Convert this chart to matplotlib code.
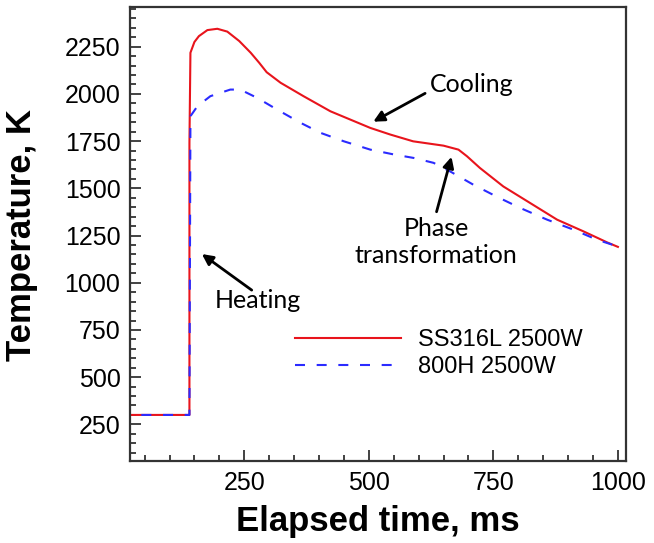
import matplotlib
matplotlib.use("Agg")
import matplotlib.pyplot as plt
from matplotlib.ticker import MultipleLocator

# data (time in ms, temperature in K)
t_ss = [0, 140, 140, 142, 150, 159, 176, 196, 216, 240, 263, 280, 295, 323,
        369, 423, 503, 543, 589, 650, 680, 697, 723, 770, 824, 878, 931, 979, 1000]
T_ss = [300, 300, 1740, 2218, 2275, 2306, 2338, 2345, 2330, 2280, 2218, 2165,
        2115, 2059, 1988, 1908, 1820, 1785, 1749, 1726, 1705, 1670, 1608, 1510,
        1422, 1334, 1272, 1213, 1190]

t_800 = [0, 140, 142, 156, 182, 222, 242, 276, 316, 363, 403, 450, 503, 551,
         590, 630, 663, 710, 756, 804, 858, 911, 958, 1000]
T_800 = [300, 300, 1882, 1935, 1988, 2023, 2023, 1979, 1917, 1847, 1794, 1749,
         1705, 1679, 1661, 1635, 1590, 1519, 1457, 1396, 1334, 1281, 1228, 1192]

labels = ["SS316L 2500W", "800H 2500W"]

plt.rcParams['font.family'] = ['Liberation Sans', 'DejaVu Sans']

fig = plt.figure(figsize=(6.54, 5.43), dpi=100)
ax = fig.add_axes([0.199, 0.151, 0.758, 0.836])

ax.plot(t_ss, T_ss, color='#e8141c', lw=1.5, label=labels[0])
ax.plot(t_800, T_800, color='#2b2bff', lw=1.5, ls=(0, (4.8, 5.6)), label=labels[1])

ax.set_xlim(21, 1016)
ax.set_ylim(56, 2460)
ax.xaxis.set_major_locator(MultipleLocator(250))
ax.xaxis.set_minor_locator(MultipleLocator(50))
ax.yaxis.set_major_locator(MultipleLocator(250))
ax.yaxis.set_minor_locator(MultipleLocator(50))
ax.tick_params(which='both', direction='in', top=False, right=False,
               labelsize=18, width=1.2, colors='#222222', labelcolor='black')
ax.tick_params(which='major', length=8, pad=7)
ax.tick_params(which='minor', length=4.3)
for s in ax.spines.values():
    s.set_linewidth(1.6)
    s.set_color('#333333')

ax.set_xlabel('Elapsed time, ms', fontsize=25, fontweight='bold')
ax.set_ylabel('Temperature, K', fontsize=25, fontweight='bold')
ax.xaxis.set_label_coords(0.5, -0.097)
ax.yaxis.set_label_coords(-0.185, 0.498)

leg = ax.legend(loc='upper left', bbox_to_anchor=(0.333, 0.29), frameon=False,
                fontsize=17, handlelength=4.5, handletextpad=0.68,
                labelspacing=0.2, borderpad=0, borderaxespad=0)

arrow = dict(arrowstyle='-|>', color='black', lw=2, mutation_scale=16,
             shrinkA=0, shrinkB=0)
afont = dict(family='Lato', fontsize=18)
ax.annotate('', xy=(509, 1853), xytext=(613, 2003), arrowprops=arrow)
ax.text(707, 2050, 'Cooling', ha='center', va='center', **afont)
ax.annotate('', xy=(666, 1667), xytext=(636, 1376), arrowprops=arrow)
ax.text(635, 1216, 'Phase\ntransformation', ha='center', va='center',
        linespacing=1.25, **afont)
ax.annotate('', xy=(165, 1152), xytext=(265, 961), arrowprops=arrow)
ax.text(278, 908, 'Heating', ha='center', va='center', **afont)

fig.savefig('out.png', dpi=100)
